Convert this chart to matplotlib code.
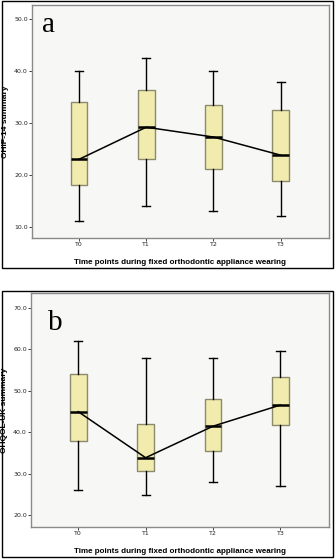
import matplotlib
matplotlib.use("Agg")
import matplotlib.pyplot as plt
from matplotlib.patches import Rectangle

# Zeitpunkte und Kennwerte der Boxplots (min, Q1, Median, Q3, max)
labels = ["T0", "T1", "T2", "T3"]

ohip_low = [11, 14, 13, 12]
ohip_q1 = [18, 23, 21.2, 18.9]
ohip_med = [23, 29.2, 27.3, 23.8]
ohip_q3 = [34, 36.4, 33.5, 32.6]
ohip_high = [40, 42.5, 40, 38]
ohip_ticks = [10, 20, 30, 40, 50]

ohqol_low = [26, 25, 28, 27]
ohqol_q1 = [38, 30.8, 35.4, 41.7]
ohqol_med = [45, 33.9, 41.5, 46.6]
ohqol_q3 = [54, 42, 48, 53.4]
ohqol_high = [62, 58, 58, 59.6]
ohqol_ticks = [20, 30, 40, 50, 60, 70]

BOX_FILL = "#f1ebad"
BOX_EDGE = "#8c8a6c"
BG = "#f7f7f5"
SPINE = "#8a8a8a"


def make_stats(low, q1, med, q3, high):
    stats = []
    for i in range(len(labels)):
        stats.append({"whislo": low[i], "q1": q1[i], "med": med[i],
                      "q3": q3[i], "whishi": high[i], "label": labels[i]})
    return stats


def draw_panel(ax, stats, med, ticks, ylim, ylabel, letter, letter_pos):
    pos = list(range(len(labels)))
    ax.set_facecolor(BG)
    ax.bxp(stats, positions=pos, widths=0.25, patch_artist=True,
           showfliers=False,
           boxprops=dict(facecolor=BOX_FILL, edgecolor=BOX_EDGE, linewidth=1.0),
           medianprops=dict(color="black", linewidth=1.8),
           whiskerprops=dict(color="black", linewidth=1.0),
           capprops=dict(color="black", linewidth=1.0),
           capwidths=0.12)
    # Verbindungslinie der Mediane
    ax.plot(pos, med, color="black", linewidth=1.1, zorder=5)

    ax.set_xlim(-0.70, 3.72)
    ax.set_ylim(*ylim)
    ax.set_yticks(ticks)
    ax.set_yticklabels([f"{t:.1f}" for t in ticks])
    ax.set_xticks(pos)
    ax.set_xticklabels(labels)
    ax.tick_params(axis="both", labelsize=4.5, length=2.0, width=0.6,
                   colors="#222222", pad=1.0)
    for s in ax.spines.values():
        s.set_color(SPINE)
        s.set_linewidth(1.0)

    ax.set_ylabel(ylabel, fontsize=6, fontweight="bold", family="Liberation Sans")
    ax.yaxis.set_label_coords(-0.078, 0.5)
    ax.set_xlabel("Time points during fixed orthodontic appliance wearing",
                  fontsize=5.8, fontweight="bold", family="Liberation Sans")
    ax.xaxis.set_label_coords(0.5, -0.088)
    ax.text(letter_pos[0], letter_pos[1], letter, transform=ax.transAxes,
            fontsize=21, family="Liberation Serif", va="baseline", ha="left")


fig = plt.figure(figsize=(3.35, 5.6), dpi=100)
fig.patch.set_facecolor("white")

# Rahmen um die beiden Teilabbildungen
fig.add_artist(Rectangle((2 / 335, 1 - 268 / 560), 331 / 335, 267 / 560,
                         transform=fig.transFigure, fill=False,
                         edgecolor="black", linewidth=1.0))
fig.add_artist(Rectangle((2 / 335, 1 - 557 / 560), 331 / 335, 266 / 560,
                         transform=fig.transFigure, fill=False,
                         edgecolor="black", linewidth=1.0))

ax_a = fig.add_axes([32 / 335, 1 - 238 / 560, 297 / 335, 233 / 560])
ax_b = fig.add_axes([31 / 335, 1 - 527 / 560, 298 / 335, 234 / 560])

draw_panel(ax_a, make_stats(ohip_low, ohip_q1, ohip_med, ohip_q3, ohip_high),
           ohip_med, ohip_ticks, (7.8, 52.8), "OHIP-14 summary", "a", (0.033, 0.884))
draw_panel(ax_b, make_stats(ohqol_low, ohqol_q1, ohqol_med, ohqol_q3, ohqol_high),
           ohqol_med, ohqol_ticks, (17.2, 73.6), "OHQOL-UK summary", "b", (0.057, 0.842))

fig.savefig("out.png", dpi=100)
